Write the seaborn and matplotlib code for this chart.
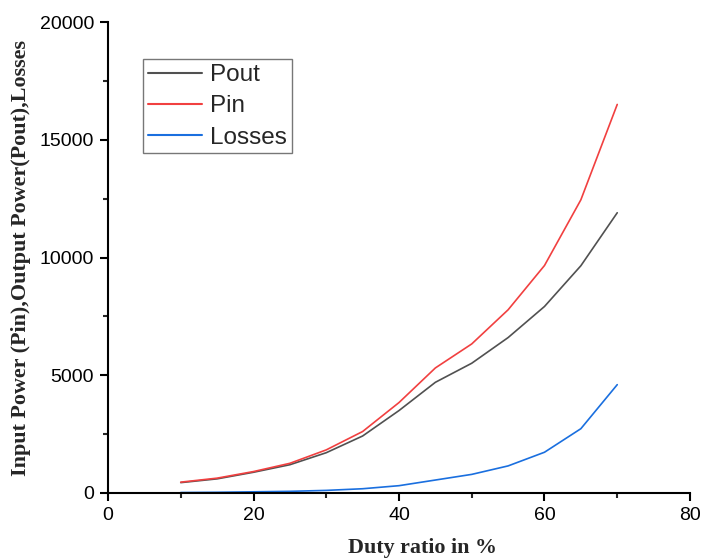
import numpy as np
import pandas as pd
import matplotlib
matplotlib.use("Agg")
import matplotlib.pyplot as plt
import seaborn as sns
from matplotlib.ticker import MultipleLocator

# Duty ratio (%) and measured powers (W)
duty = [10, 15, 20, 25, 30, 35, 40, 45, 50, 55, 60, 65, 70]
pout = [440, 600, 880, 1200, 1710, 2420, 3500, 4700, 5510, 6600, 7920, 9650, 11900]
pin = [460, 630, 910, 1260, 1830, 2610, 3840, 5310, 6330, 7780, 9660, 12450, 16500]
losses = [20, 30, 50, 70, 110, 180, 310, 550, 790, 1150, 1730, 2730, 4600]

series_names = ["Pout", "Pin", "Losses"]
series_colors = ["#515151", "#F14040", "#1A6FDF"]

df = pd.DataFrame({
    "duty": duty * 3,
    "value": pout + pin + losses,
    "series": [n for n, vals in zip(series_names, [pout, pin, losses]) for _ in vals],
})

sns.set_style("white")
plt.rcParams["font.family"] = ["Liberation Sans", "DejaVu Sans"]

fig = plt.figure(figsize=(7.05, 5.59), dpi=100)
ax = fig.add_axes([0.1532, 0.1181, 0.8255, 0.8425])

sns.lineplot(data=df, x="duty", y="value", hue="series", hue_order=series_names,
             palette=series_colors, linewidth=1.2, ax=ax)

ax.set_xlim(0, 80)
ax.set_ylim(0, 20000)
ax.xaxis.set_major_locator(MultipleLocator(20))
ax.xaxis.set_minor_locator(MultipleLocator(10))
ax.yaxis.set_major_locator(MultipleLocator(5000))
ax.yaxis.set_minor_locator(MultipleLocator(2500))

for side in ["top", "right"]:
    ax.spines[side].set_visible(False)
for side in ["left", "bottom"]:
    ax.spines[side].set_linewidth(1.5)
    ax.spines[side].set_color("black")

ax.tick_params(which="major", direction="out", length=6, width=1.5,
               labelsize=14, colors="black", left=True, bottom=True, pad=4)
ax.tick_params(which="minor", direction="out", length=3.5, width=1.5,
               left=True, bottom=True)

label_font = dict(family=["Liberation Serif", "DejaVu Serif"], weight="bold", size=15.8)
ax.set_xlabel("Duty ratio in %", fontdict=label_font)
ax.set_ylabel("Input Power (Pin),Output Power(Pout),Losses", fontdict=label_font)
ax.xaxis.set_label_coords(0.541, -0.095)
ax.yaxis.set_label_coords(-0.132, 0.5)

leg = ax.legend(loc="upper left", bbox_to_anchor=(0.06, 0.921), borderaxespad=0,
                fontsize=17.5, frameon=True, fancybox=False, handlelength=2.25,
                handletextpad=0.33, labelspacing=0.38, borderpad=0.2, title=None)
leg.get_frame().set_edgecolor("#555555")
leg.get_frame().set_linewidth(1.0)
for line in leg.get_lines():
    line.set_linewidth(1.5)

fig.savefig("out.png", dpi=100)
